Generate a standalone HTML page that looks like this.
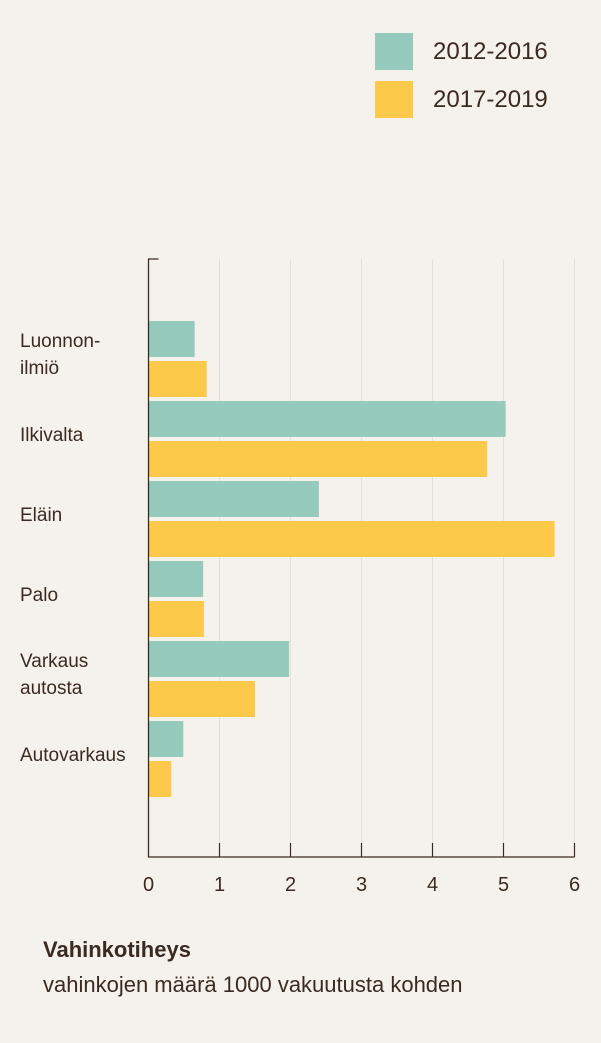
<!DOCTYPE html>
<html><head><meta charset="utf-8"><style>
body{margin:0;background:#f5f2ee;}
svg{display:block;font-family:"Liberation Sans",sans-serif;}
</style></head><body>
<svg width="601" height="1043" viewBox="0 0 601 1043">
<rect width="601" height="1043" fill="#f5f2ee"/>
<g>
<rect x="375" y="33" width="38" height="37" fill="#96cabd"/>
<text x="433" y="59" font-size="24" fill="#3a2a20">2012-2016</text>
<rect x="375" y="81" width="38" height="37" fill="#fdc94a"/>
<text x="433" y="107" font-size="24" fill="#3a2a20">2017-2019</text>
</g>
<g id="grid"></g><g id="bars"></g><g id="axis"></g><g id="labels"></g>
<text x="43" y="957" font-size="22" font-weight="bold" fill="#3a2a20">Vahinkotiheys</text>
<text x="43" y="992" font-size="22" fill="#3a2a20">vahinkojen määrä 1000 vakuutusta kohden</text>
</svg>
<script>
const categories=[["Luonnon-","ilmiö"],["Ilkivalta"],["Eläin"],["Palo"],["Varkaus","autosta"],["Autovarkaus"]];
const series2012=[0.65,5.03,2.40,0.77,1.98,0.49];
const series2017=[0.82,4.77,5.72,0.78,1.50,0.32];
const ticks=[0,1,2,3,4,5,6];
const NS="http://www.w3.org/2000/svg";
const x0=148.5,pxu=71,plotTop=259,base=857,g0=321,period=80,bh=36;
const X=v=>x0+v*pxu;
function mk(tag,attrs,parent){const e=document.createElementNS(NS,tag);for(const k in attrs)e.setAttribute(k,attrs[k]);document.getElementById(parent).appendChild(e);return e;}
ticks.forEach(t=>{
 if(t>0){const l=mk('line',{x1:X(t),x2:X(t),y1:plotTop,y2:base,stroke:'#e3dfda','stroke-width':1},'grid');
 
 
 const tk=mk('line',{x1:X(t),x2:X(t),y1:843,y2:base,stroke:'#3a2a20','stroke-width':1.2},'axis');
 
 }
 const tx=mk('text',{x:X(t),y:891,'font-size':20,fill:'#3a2a20','text-anchor':'middle'},'axis');
 tx.textContent=t;
 
 
});
const ax=mk('path',{d:`M${x0+10} ${plotTop}H${x0}V${base}H${X(6)}`,fill:'none',stroke:'#3a2a20','stroke-width':1.3},'axis');


categories.forEach((c,i)=>{
 const y=g0+i*period;
 const a=mk('rect',{x:x0,y:y,width:X(series2012[i])-x0,height:bh,fill:'#96cabd'},'bars');
 
 
 const b=mk('rect',{x:x0,y:y+40,width:X(series2017[i])-x0,height:bh,fill:'#fdc94a'},'bars');
 
 
 const t=mk('text',{x:20,'font-size':19,fill:'#3a2a20'},'labels');
 
 
 const ys=c.length==2?[y+26,y+53]:[y+40];
 c.forEach((s,j)=>{const sp=document.createElementNS(NS,'tspan');sp.setAttribute('x',20);sp.setAttribute('y',ys[j]);sp.textContent=s;t.appendChild(sp);});
});
</script>
</body></html>
